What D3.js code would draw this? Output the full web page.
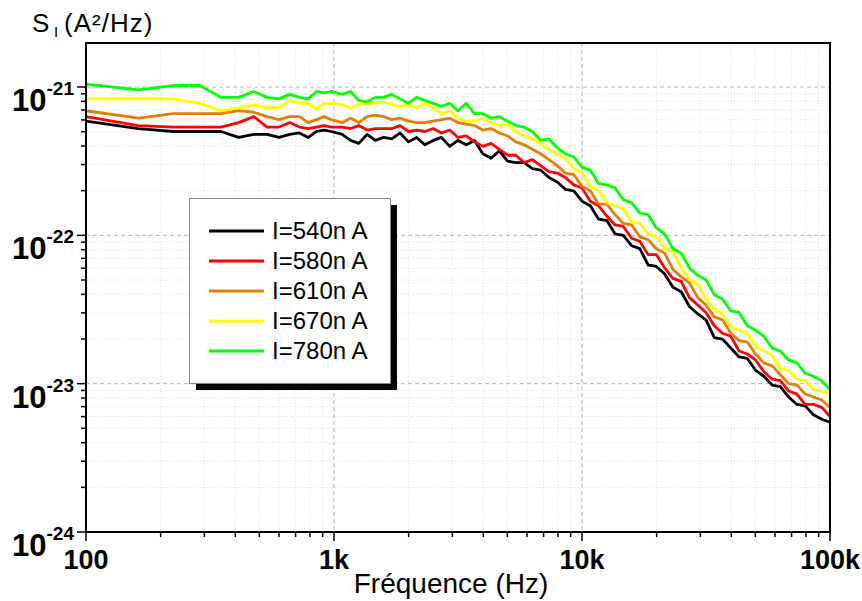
<!DOCTYPE html>
<html>
<head>
<meta charset="utf-8">
<script src="https://cdn.jsdelivr.net/npm/d3@7"></script>
<style>
  body { margin: 0; background: #fff; }
  svg { display: block; font-family: "Liberation Sans", Arial, sans-serif; }
</style>
</head>
<body>
<div id="chart"></div>
<script>
// frequency bins (Hz)
const freqs = [100, 162.5, 225, 287.5, 350, 412.5, 475, 537.5, 600, 662.5, 725, 787.5, 850, 912.5, 975,
  1080, 1166, 1259, 1359, 1468, 1585, 1711, 1848, 1995, 2154, 2326, 2512, 2712, 2929, 3162, 3415, 3687, 3981, 4299, 4642, 5012, 5412, 5843, 6310, 6813, 7356, 7943,
  8577, 9261, 10000, 10800, 11660, 12590, 13590, 14680, 15850, 17110, 18480, 19950, 21540, 23260, 25120, 27120, 29290, 31620, 34150, 36870, 39810, 42990, 46420, 50120, 54120, 58430, 63100, 68130, 73560, 79430, 85770, 92610, 100000];

// log10 of S_I (A²/Hz) for each bias current
const logS540 = [-21.23, -21.28, -21.30, -21.30, -21.30, -21.34, -21.32, -21.32, -21.34, -21.32, -21.31, -21.34, -21.30, -21.29, -21.30,
  -21.32, -21.36, -21.38, -21.32, -21.36, -21.34, -21.35, -21.31, -21.37, -21.34, -21.39, -21.36, -21.34, -21.40, -21.36, -21.39, -21.36, -21.45, -21.48, -21.43, -21.50, -21.51, -21.51, -21.55, -21.56, -21.61, -21.64,
  -21.69, -21.70, -21.77, -21.80, -21.89, -21.90, -21.99, -22.00, -22.07, -22.09, -22.20, -22.21, -22.26, -22.35, -22.38, -22.48, -22.53, -22.57, -22.69, -22.70, -22.76, -22.82, -22.83, -22.91, -22.95, -23.01, -23.02, -23.09, -23.14, -23.15, -23.21, -23.24, -23.26];
const logS580 = [-21.20, -21.26, -21.27, -21.27, -21.27, -21.24, -21.20, -21.27, -21.27, -21.24, -21.27, -21.28, -21.27, -21.26, -21.27,
  -21.27, -21.28, -21.26, -21.29, -21.28, -21.28, -21.28, -21.26, -21.30, -21.29, -21.30, -21.28, -21.31, -21.29, -21.34, -21.33, -21.37, -21.40, -21.38, -21.42, -21.46, -21.46, -21.51, -21.49, -21.53, -21.57, -21.58,
  -21.61, -21.66, -21.68, -21.77, -21.80, -21.87, -21.93, -21.94, -22.02, -22.04, -22.13, -22.13, -22.22, -22.29, -22.31, -22.42, -22.47, -22.52, -22.61, -22.66, -22.68, -22.78, -22.80, -22.84, -22.92, -22.97, -22.98, -23.05, -23.07, -23.14, -23.14, -23.16, -23.22];
const logS610 = [-21.16, -21.21, -21.18, -21.18, -21.18, -21.16, -21.17, -21.20, -21.22, -21.20, -21.20, -21.24, -21.22, -21.20, -21.22,
  -21.24, -21.21, -21.24, -21.20, -21.19, -21.20, -21.22, -21.21, -21.23, -21.24, -21.24, -21.23, -21.22, -21.21, -21.24, -21.25, -21.26, -21.29, -21.28, -21.31, -21.33, -21.37, -21.39, -21.42, -21.45, -21.49, -21.53,
  -21.58, -21.59, -21.67, -21.70, -21.79, -21.79, -21.86, -21.92, -21.93, -22.01, -22.03, -22.09, -22.12, -22.23, -22.28, -22.32, -22.42, -22.47, -22.55, -22.57, -22.66, -22.71, -22.72, -22.80, -22.86, -22.88, -22.94, -23.00, -23.01, -23.07, -23.09, -23.11, -23.16];
const logS670 = [-21.08, -21.08, -21.08, -21.11, -21.16, -21.14, -21.12, -21.14, -21.14, -21.09, -21.11, -21.11, -21.15, -21.11, -21.11,
  -21.12, -21.14, -21.12, -21.11, -21.11, -21.10, -21.12, -21.13, -21.12, -21.14, -21.11, -21.14, -21.18, -21.16, -21.21, -21.23, -21.23, -21.21, -21.24, -21.26, -21.25, -21.30, -21.33, -21.35, -21.38, -21.42, -21.45,
  -21.48, -21.55, -21.58, -21.67, -21.70, -21.78, -21.80, -21.82, -21.91, -21.92, -21.99, -22.01, -22.09, -22.11, -22.22, -22.30, -22.33, -22.43, -22.50, -22.53, -22.62, -22.64, -22.66, -22.75, -22.78, -22.81, -22.90, -22.91, -22.97, -22.98, -23.04, -23.05, -23.07];
const logS780 = [-20.98, -21.02, -20.99, -20.99, -21.07, -21.07, -21.03, -21.07, -21.08, -21.05, -21.07, -21.08, -21.03, -21.04, -21.03,
  -21.05, -21.03, -21.09, -21.10, -21.07, -21.07, -21.05, -21.08, -21.11, -21.07, -21.09, -21.11, -21.13, -21.11, -21.16, -21.11, -21.18, -21.18, -21.21, -21.20, -21.23, -21.26, -21.27, -21.30, -21.36, -21.35, -21.41,
  -21.45, -21.47, -21.54, -21.56, -21.65, -21.66, -21.68, -21.76, -21.78, -21.85, -21.86, -21.95, -21.99, -22.09, -22.12, -22.22, -22.27, -22.30, -22.40, -22.43, -22.51, -22.52, -22.61, -22.64, -22.68, -22.76, -22.78, -22.84, -22.86, -22.93, -22.95, -22.98, -23.04];

const seriesNames = ["I=540n A", "I=580n A", "I=610n A", "I=670n A", "I=780n A"];
const seriesColors = ["#000000", "#ff0000", "#e07f00", "#ffff00", "#00ff00"];
const seriesData = [logS540, logS580, logS610, logS670, logS780];

const xTickValues = [100, 1000, 10000, 100000];
const xTickLabels = ["100", "1k", "10k", "100k"];
const yTickExps = [-24, -23, -22, -21];

(() => {
  const width = 862, height = 601;
  const plot = {left: 86, right: 830, top: 43, bottom: 532};

  const svg = d3.select("#chart").append("svg")
    .attr("width", width)
    .attr("height", height);

  const x = d3.scaleLog().domain([100, 1e5]).range([plot.left, plot.right]);
  const y = d3.scaleLog().domain([1e-24, 1e-21]).range([plot.bottom, 87]);

  const isDecade = v => Math.abs(Math.log10(v) - Math.round(Math.log10(v))) < 1e-6;

  // grid
  const grid = svg.append("g");
  x.ticks().filter(v => v > 100 && v < 1e5).forEach(v => {
    grid.append("line")
      .attr("x1", x(v)).attr("x2", x(v))
      .attr("y1", plot.top).attr("y2", plot.bottom)
      .attr("stroke", isDecade(v) ? "#b8b8b8" : "#e2e2e2")
      .attr("stroke-dasharray", isDecade(v) ? "4,3" : "1,2")
      .attr("stroke-width", 1);
  });
  y.ticks().filter(v => v > 1.0001e-24).forEach(v => {
    grid.append("line")
      .attr("x1", plot.left).attr("x2", plot.right)
      .attr("y1", y(v)).attr("y2", y(v))
      .attr("stroke", isDecade(v) ? "#b8b8b8" : "#e2e2e2")
      .attr("stroke-dasharray", isDecade(v) ? "4,3" : "1,2")
      .attr("stroke-width", 1);
  });

  // curves
  svg.append("clipPath").attr("id", "plot-clip")
    .append("rect")
    .attr("x", plot.left).attr("y", plot.top)
    .attr("width", plot.right - plot.left).attr("height", plot.bottom - plot.top);

  const line = d3.line()
    .x(d => x(d[0]))
    .y(d => y(Math.pow(10, d[1])));

  svg.append("g").attr("clip-path", "url(#plot-clip)")
    .selectAll("path")
    .data(seriesData)
    .enter().append("path")
    .attr("d", s => line(d3.zip(freqs, s)))
    .attr("fill", "none")
    .attr("stroke", (s, i) => seriesColors[i])
    .attr("stroke-width", 2.8)
    .attr("stroke-linejoin", "round");

  // frame
  svg.append("rect")
    .attr("x", plot.left).attr("y", plot.top)
    .attr("width", plot.right - plot.left).attr("height", plot.bottom - plot.top)
    .attr("fill", "none")
    .attr("stroke", "#000")
    .attr("stroke-width", 2);

  // ticks
  const ticks = svg.append("g").attr("stroke", "#000").attr("stroke-width", 1.5);
  x.ticks().forEach(v => {
    ticks.append("line")
      .attr("x1", x(v)).attr("x2", x(v))
      .attr("y1", plot.bottom).attr("y2", plot.bottom + (isDecade(v) ? 9 : 5));
  });
  y.ticks().forEach(v => {
    ticks.append("line")
      .attr("x1", plot.left - (isDecade(v) ? 9 : 5)).attr("x2", plot.left)
      .attr("y1", y(v)).attr("y2", y(v));
  });

  // tick labels
  svg.selectAll(".xlab")
    .data(xTickValues)
    .enter().append("text")
    .attr("x", d => x(d))
    .attr("y", 569)
    .attr("text-anchor", "middle")
    .attr("font-size", 27)
    .attr("font-weight", "bold")
    .text((d, i) => xTickLabels[i]);

  yTickExps.forEach(e => {
    const t = svg.append("text")
      .attr("x", 74)
      .attr("y", y(Math.pow(10, e)) + 24)
      .attr("text-anchor", "end")
      .attr("font-weight", "bold");
    t.append("tspan").attr("font-size", 31).text("10");
    t.append("tspan").attr("font-size", 19).attr("dy", -16).text(String(e));
  });

  // axis titles
  svg.append("text")
    .attr("x", 451).attr("y", 593)
    .attr("text-anchor", "middle")
    .attr("font-size", 28)
    .text("Fréquence (Hz)");

  svg.append("text").attr("x", 32).attr("y", 32).attr("font-size", 26).text("S");
  svg.append("text").attr("x", 54).attr("y", 37).attr("font-size", 15).text("I");
  svg.append("text").attr("x", 64).attr("y", 32).attr("font-size", 26)
    .attr("letter-spacing", 1).text("(A²/Hz)");

  // legend
  const legend = svg.append("g");
  legend.append("rect")
    .attr("x", 196).attr("y", 205).attr("width", 201).attr("height", 185)
    .attr("fill", "#000");
  legend.append("rect")
    .attr("x", 189.5).attr("y", 198.5).attr("width", 201).attr("height", 185)
    .attr("fill", "#fff").attr("stroke", "#888").attr("stroke-width", 1);

  const rows = legend.selectAll(".row")
    .data(seriesNames)
    .enter().append("g")
    .attr("transform", (d, i) => `translate(0, ${231 + i * 30})`);
  rows.append("line")
    .attr("x1", 209).attr("x2", 264)
    .attr("stroke", (d, i) => seriesColors[i])
    .attr("stroke-width", 2.8);
  rows.append("text")
    .attr("x", 272).attr("y", 8)
    .attr("font-size", 24)
    .text(d => d);
})();
</script>
</body>
</html>
